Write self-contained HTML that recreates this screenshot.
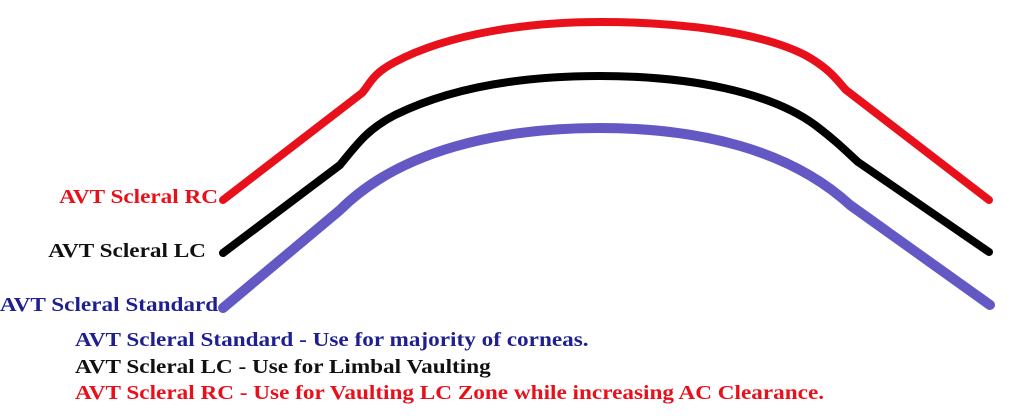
<!DOCTYPE html>
<html><head><style>
body{margin:0;background:#fff;width:1024px;height:420px;overflow:hidden;position:relative;font-family:"Liberation Serif",serif;font-weight:bold}
.t{position:absolute;white-space:nowrap;font-size:20px;transform:scaleX(1.16)}
.l{transform-origin:left top}
.r{transform-origin:right top}
</style></head><body>
<svg width="1024" height="420" style="position:absolute;left:0;top:0" fill="none" stroke-linecap="round" stroke-linejoin="round">
<path d="M223,200 L362,93 C370,84 372,74 395,62 C450,33 530,22 600,22 C680,22 760,32 805,55 C832,70 838,82 846,90 L989,200" stroke="#e8101a" stroke-width="8"/>
<path d="M223,253 L340,165 C360,140 370,128 395,115 C450,88 520,76 600,76 C690,76 770,92 815,125 C835,140 845,150 858,162 L989,252" stroke="#000" stroke-width="8"/>
<path d="M223,308 L340,210 C400,150 500,128 600,128 C700,128 790,150 850,205 L990,305" stroke="#6459c4" stroke-width="10"/>
</svg>
<div class="t r" style="right:806px;top:186px;color:#e8101a">AVT Scleral RC</div>
<div class="t r" style="right:818px;top:240px;color:#111">AVT Scleral LC</div>
<div class="t r" style="right:806px;top:294px;color:#1f1f8f">AVT Scleral Standard</div>
<div class="t l" style="left:75px;top:329px;color:#1f1f8f">AVT Scleral Standard - Use for majority of corneas.</div>
<div class="t l" style="left:75px;top:356px;color:#111">AVT Scleral LC - Use for Limbal Vaulting</div>
<div class="t l" style="left:75px;top:382px;color:#e8101a">AVT Scleral RC - Use for Vaulting LC Zone while increasing AC Clearance.</div>
</body></html>
